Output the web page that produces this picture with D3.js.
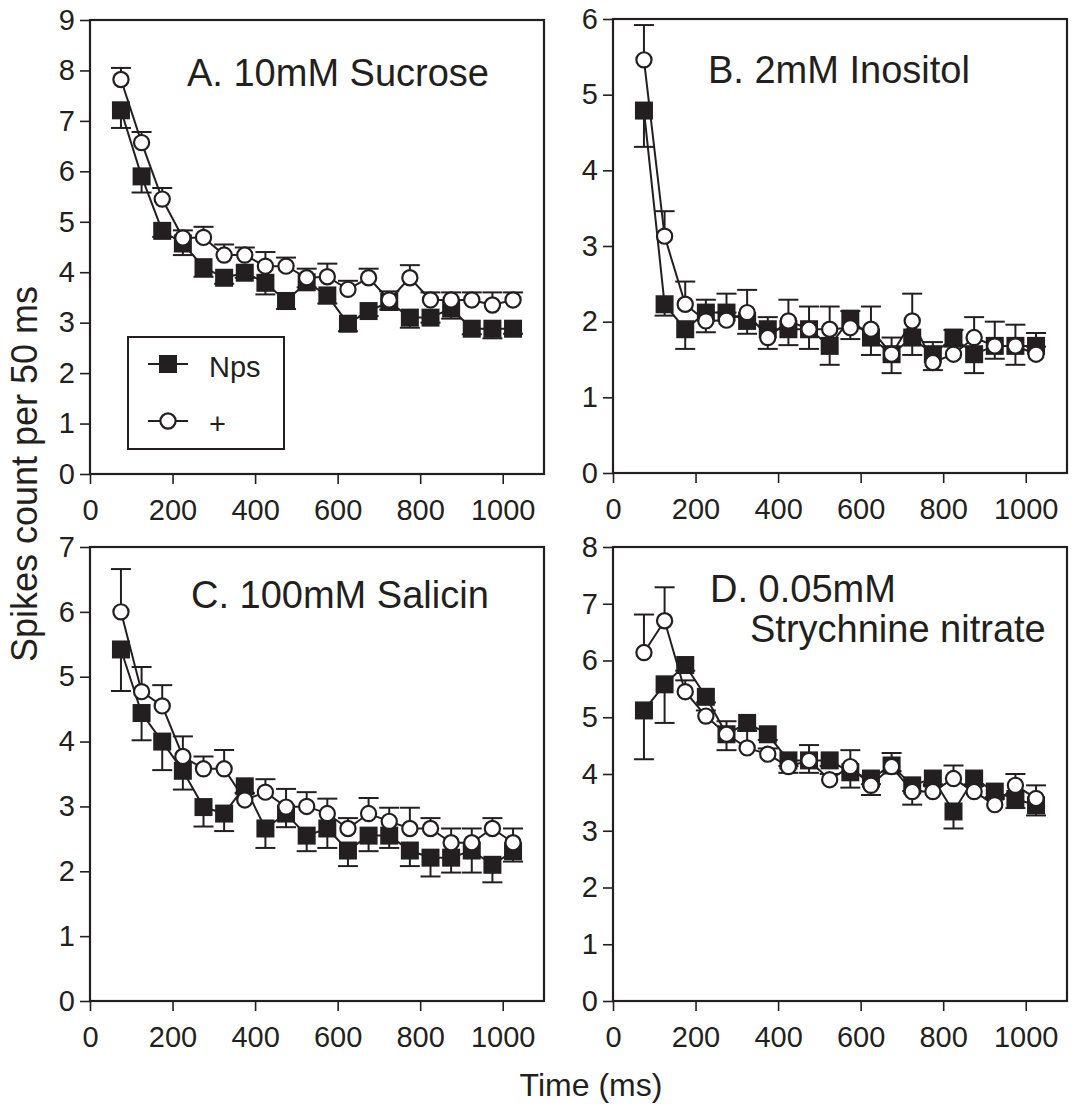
<!DOCTYPE html>
<html>
<head>
<meta charset="utf-8">
<script src="https://cdn.jsdelivr.net/npm/d3@7"></script>
<style>
  html, body { margin: 0; padding: 0; background: #fff; }
  svg { display: block; }
  text { font-family: "Liberation Sans", Arial, Helvetica, sans-serif; fill: #231f20; }
</style>
</head>
<body>
<svg id="fig" width="1072" height="1104"></svg>
<script>
// Bin centres (ms) of the 50 ms counting windows
const timeMs = [75, 125, 175, 225, 275, 325, 375, 425, 475, 525,
                575, 625, 675, 725, 775, 825, 875, 925, 975, 1025];

const xTicks = [0, 200, 400, 600, 800, 1000];

// Mean spike counts per 50 ms; error arrays hold SEM, the sign gives
// the side the whisker is drawn on (+ above, - below the mean)
const sucroseNps   = [7.21, 5.90, 4.82, 4.57, 4.10, 3.89, 3.99, 3.79, 3.43, 3.80,
                      3.54, 2.98, 3.23, 3.41, 3.10, 3.10, 3.28, 2.88, 2.88, 2.88];
const sucroseNpsSE = [-0.35, -0.32, -0.12, -0.23, -0.19, -0.12, -0.10, -0.23, -0.16, -0.10,
                      -0.16, -0.15, -0.10, -0.15, -0.20, -0.10, -0.20, -0.11, -0.19, -0.10];
const sucrosePlus   = [7.82, 6.57, 5.45, 4.68, 4.69, 4.34, 4.34, 4.12, 4.12, 3.89,
                       3.91, 3.66, 3.89, 3.45, 3.89, 3.45, 3.45, 3.45, 3.35, 3.45];
const sucrosePlusSE = [0.23, 0.21, 0.22, 0.15, 0.21, 0.21, 0.15, 0.28, 0.17, 0.18,
                       0.26, 0.17, 0.18, 0.17, 0.25, 0.15, 0.15, 0.15, 0.25, 0.15];

const inositolNps   = [4.79, 2.23, 1.90, 2.12, 2.12, 2.01, 1.90, 1.90, 1.90, 1.68,
                       2.04, 1.79, 1.57, 1.79, 1.57, 1.79, 1.57, 1.68, 1.68, 1.68];
const inositolNpsSE = [-0.48, -0.15, -0.26, 0.17, 0.25, -0.17, 0.16, -0.21, -0.26, -0.25,
                       0.10, -0.23, -0.25, -0.23, 0.16, 0.10, -0.25, -0.17, -0.25, 0.17];
const inositolPlus   = [5.46, 3.13, 2.23, 2.01, 2.02, 2.12, 1.79, 2.01, 1.90, 1.90,
                        1.92, 1.90, 1.57, 2.01, 1.46, 1.57, 1.79, 1.68, 1.68, 1.57];
const inositolPlusSE = [0.46, 0.33, 0.30, -0.15, 0.10, 0.30, -0.15, 0.28, 0.30, 0.30,
                        -0.15, 0.30, 0.22, 0.36, -0.10, 0.10, 0.27, 0.32, 0.28, 0.10];

const salicinNps   = [5.42, 4.44, 4.00, 3.55, 2.99, 2.89, 3.31, 2.66, 2.89, 2.55,
                      2.66, 2.32, 2.55, 2.55, 2.32, 2.21, 2.21, 2.32, 2.10, 2.31];
const salicinNpsSE = [-0.64, -0.42, -0.44, -0.29, -0.30, -0.27, -0.10, -0.30, -0.21, -0.24,
                      -0.30, -0.24, -0.24, -0.19, -0.24, -0.29, -0.23, -0.34, -0.27, -0.16];
const salicinPlus   = [6.00, 4.77, 4.55, 3.77, 3.58, 3.58, 3.10, 3.22, 2.99, 3.00,
                       2.89, 2.66, 2.89, 2.77, 2.66, 2.66, 2.44, 2.44, 2.66, 2.44];
const salicinPlusSE = [0.66, 0.38, 0.32, 0.31, 0.19, 0.29, 0.10, 0.20, 0.28, 0.22,
                       0.23, 0.16, 0.24, 0.21, 0.32, 0.16, 0.22, 0.22, 0.16, 0.22];

const strychNps   = [5.12, 5.58, 5.92, 5.36, 4.70, 4.90, 4.70, 4.24, 4.24, 4.24,
                     4.03, 3.92, 4.15, 3.80, 3.92, 3.34, 3.92, 3.69, 3.56, 3.45];
const strychNpsSE = [-0.86, -0.68, -0.10, -0.10, -0.28, -0.10, -0.10, -0.10, -0.22, -0.10,
                     -0.27, -0.10, -0.10, -0.10, -0.10, -0.30, -0.10, -0.10, -0.16, -0.18];
const strychPlus   = [6.14, 6.70, 5.45, 5.02, 4.70, 4.46, 4.35, 4.13, 4.24, 3.90,
                      4.13, 3.80, 4.13, 3.69, 3.69, 3.92, 3.69, 3.46, 3.80, 3.57];
const strychPlusSE = [0.67, 0.59, 0.20, 0.10, 0.23, 0.30, 0.10, -0.11, 0.27, 0.10,
                      0.29, -0.17, 0.24, -0.23, 0.10, 0.23, 0.10, 0.10, 0.20, 0.23];

const panelTitles = [["A. 10mM Sucrose"], ["B. 2mM Inositol"], ["C. 100mM Salicin"],
                     ["D. 0.05mM", "Strychnine nitrate"]];
const yMax = [9, 6, 7, 8];
const legendLabels = ["Nps", "+"];

const INK = "#231f20";
const svg = d3.select("#fig");

const panelW = 454, panelH = 454;
const panels = [
  { x: 90,  y: 20,  nps: sucroseNps,  npsSE: sucroseNpsSE,  plus: sucrosePlus,  plusSE: sucrosePlusSE,
    titlePos: [[97, 66]], legend: true },
  { x: 613, y: 19,  nps: inositolNps, npsSE: inositolNpsSE, plus: inositolPlus, plusSE: inositolPlusSE,
    titlePos: [[95, 64]] },
  { x: 90,  y: 547, nps: salicinNps,  npsSE: salicinNpsSE,  plus: salicinPlus,  plusSE: salicinPlusSE,
    titlePos: [[101, 61]] },
  { x: 613, y: 547, nps: strychNps,   npsSE: strychNpsSE,   plus: strychPlus,   plusSE: strychPlusSE,
    titlePos: [[97, 55], [137, 95]] }
];

const x = d3.scaleLinear().domain([0, 1100]).range([0, panelW]);
const SQ = 18, R = 7.6, CAP = 10;

panels.forEach((p, i) => {
  const g = svg.append("g").attr("transform", `translate(${p.x},${p.y})`);
  const y = d3.scaleLinear().domain([0, yMax[i]]).range([panelH, 0]);

  // axes
  const xa = g.append("g").attr("transform", `translate(0,${panelH})`)
    .call(d3.axisBottom(x).tickValues(xTicks).tickFormat(d3.format("d"))
      .tickSize(10).tickPadding(15));
  const ya = g.append("g")
    .call(d3.axisLeft(y).ticks(yMax[i]).tickFormat(d3.format("d")).tickSize(10).tickPadding(5));
  [xa, ya].forEach(a => {
    a.select(".domain").remove();
    a.selectAll(".tick line").attr("stroke", INK).attr("stroke-width", 1.6);
    a.selectAll(".tick text").attr("font-size", 29).attr("fill", INK)
      .style("font-family", '"Liberation Sans", Arial, sans-serif');
  });

  // frame
  g.append("rect").attr("width", panelW).attr("height", panelH)
    .attr("fill", "none").attr("stroke", INK).attr("stroke-width", 2.2);

  const line = d3.line().x((d, k) => x(timeMs[k])).y(d => y(d));

  function errorBars(vals, se) {
    const eg = g.append("g").attr("stroke", INK).attr("stroke-width", 2);
    vals.forEach((v, k) => {
      const cx = x(timeMs[k]), y0 = y(v), y1 = y(v + se[k]);
      eg.append("line").attr("x1", cx).attr("x2", cx).attr("y1", y0).attr("y2", y1);
      eg.append("line").attr("x1", cx - CAP).attr("x2", cx + CAP).attr("y1", y1).attr("y2", y1);
    });
  }

  // filled squares: Nps
  errorBars(p.nps, p.npsSE);
  g.append("path").datum(p.nps).attr("d", line)
    .attr("fill", "none").attr("stroke", INK).attr("stroke-width", 2);
  g.selectAll(".sq").data(p.nps).enter().append("rect")
    .attr("x", (d, k) => x(timeMs[k]) - SQ / 2).attr("y", d => y(d) - SQ / 2)
    .attr("width", SQ).attr("height", SQ).attr("fill", INK);

  // open circles: +
  errorBars(p.plus, p.plusSE);
  g.append("path").datum(p.plus).attr("d", line)
    .attr("fill", "none").attr("stroke", INK).attr("stroke-width", 2);
  g.selectAll(".ci").data(p.plus).enter().append("circle")
    .attr("cx", (d, k) => x(timeMs[k])).attr("cy", d => y(d)).attr("r", R)
    .attr("fill", "#fff").attr("stroke", INK).attr("stroke-width", 2.2);

  // panel title
  panelTitles[i].forEach((t, j) => {
    g.append("text").attr("x", p.titlePos[j][0]).attr("y", p.titlePos[j][1])
      .attr("font-size", 38).text(t);
  });

  // legend
  if (p.legend) {
    const lg = g.append("g").attr("transform", "translate(38,317)");
    lg.append("rect").attr("width", 156).attr("height", 112)
      .attr("fill", "#fff").attr("stroke", INK).attr("stroke-width", 2);
    [27, 84].forEach((ly, j) => {
      lg.append("line").attr("x1", 20).attr("x2", 60).attr("y1", ly).attr("y2", ly)
        .attr("stroke", INK).attr("stroke-width", 2);
      if (j === 0) {
        lg.append("rect").attr("x", 40 - SQ / 2).attr("y", ly - SQ / 2)
          .attr("width", SQ).attr("height", SQ).attr("fill", INK);
      } else {
        lg.append("circle").attr("cx", 40).attr("cy", ly).attr("r", R)
          .attr("fill", "#fff").attr("stroke", INK).attr("stroke-width", 2.2);
      }
      lg.append("text").attr("x", 81).attr("y", ly + 12.5)
        .attr("font-size", 29).text(legendLabels[j]);
    });
  }
});

// shared axis titles
svg.append("text").attr("transform", "translate(37,474) rotate(-90)")
  .attr("text-anchor", "middle").attr("font-size", 36).text("Spikes count per 50 ms");
svg.append("text").attr("x", 591).attr("y", 1096)
  .attr("text-anchor", "middle").attr("font-size", 32).text("Time (ms)");
</script>
</body>
</html>
